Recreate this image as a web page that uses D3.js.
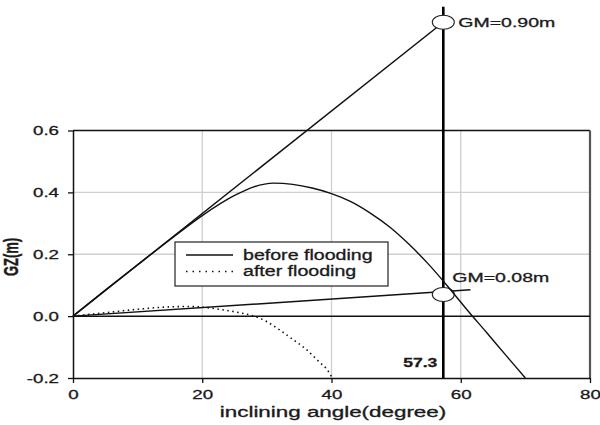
<!DOCTYPE html>
<html lang="en">
<head>
<meta charset="utf-8">
<title>GZ curve</title>
<script src="https://cdn.jsdelivr.net/npm/d3@7"></script>
<style>
  body { margin: 0; background: #fff; }
  text { font-family: "Liberation Sans", Arial, sans-serif; fill: #1a1a1a; stroke: #1a1a1a; stroke-width: 0.3px; }
</style>
</head>
<body>
<script>

// stability curve values
var angleBefore = [0, 5, 10, 15, 20, 25, 28, 31, 34, 37, 40, 43, 46, 49, 52, 55, 58, 61, 64, 67, 70];
var gzBefore    = [0, 0.084, 0.166, 0.247, 0.325, 0.39, 0.418, 0.43, 0.426, 0.414, 0.396, 0.37, 0.333, 0.288, 0.232, 0.168, 0.096, 0.02, -0.053, -0.127, -0.2];

var angleAfter = [0, 5, 10, 15, 18, 20, 23, 26, 28, 30, 32, 34, 36, 38, 39.5, 40];
var gzAfter    = [0, 0.011, 0.022, 0.03, 0.031, 0.029, 0.021, 0.01, 0, -0.018, -0.045, -0.075, -0.106, -0.146, -0.178, -0.195];

// GM tangent lines (angle, GZ) and the 1 rad marker
var gmLabels = ["GM=0.90m", "GM=0.08m"];
var gmLineEnd = [[57.3, 0.95], [61.5, 0.085]];
var gmMarker = [[57.3, 0.95], [57.3, 0.07]];
var radAngle = 57.3;
var radTop = 1.0;

var xTicks = [0, 20, 40, 60, 80];
var yTicks = [-0.2, 0.0, 0.2, 0.4, 0.6];
var xGrid = [20, 40, 60];
var yGrid = [0.2, 0.4];

var legendNames = ["before flooding", "after flooding"];

var W = 600, H = 425;
var sx = 1.5;   // text in the picture is stretched sideways

var x = d3.scaleLinear().domain([0, 80]).range([73, 590]);
var y = d3.scaleLinear().domain([-0.2, 0.6]).range([378, 130.5]);

var svg = d3.select("body").append("svg")
    .attr("width", W)
    .attr("height", H);

function label(str, px, py, size, anchor, weight, scaleX) {
  return svg.append("text")
    .attr("transform", "translate(" + px + "," + py + ") scale(" + (scaleX || sx) + ",1)")
    .attr("font-size", size)
    .attr("text-anchor", anchor || "start")
    .attr("font-weight", weight || "normal")
    .text(str);
}

// grid
svg.append("g").selectAll("line")
    .data(yGrid).enter().append("line")
    .attr("x1", x(0)).attr("x2", x(80))
    .attr("y1", function(d) { return y(d); })
    .attr("y2", function(d) { return y(d); })
    .attr("stroke", "#cfcfcf").attr("stroke-width", 1.3);

svg.append("g").selectAll("line")
    .data(xGrid).enter().append("line")
    .attr("y1", y(-0.2)).attr("y2", y(0.6))
    .attr("x1", function(d) { return x(d); })
    .attr("x2", function(d) { return x(d); })
    .attr("stroke", "#cfcfcf").attr("stroke-width", 1.3);

// frame top / right and zero line
svg.append("line")
    .attr("x1", x(0)).attr("x2", x(80)).attr("y1", y(0.6)).attr("y2", y(0.6))
    .attr("stroke", "#111").attr("stroke-width", 1.5);
svg.append("line")
    .attr("x1", x(80)).attr("x2", x(80)).attr("y1", y(0.6)).attr("y2", y(-0.2))
    .attr("stroke", "#555").attr("stroke-width", 2.2);
svg.append("line")
    .attr("x1", x(0)).attr("x2", x(80)).attr("y1", y(0)).attr("y2", y(0))
    .attr("stroke", "#111").attr("stroke-width", 1.5);

// axes
var yAxis = svg.append("g")
    .attr("transform", "translate(" + x(0) + ",0)")
    .call(d3.axisLeft(y).tickValues(yTicks).tickSize(5).tickSizeOuter(0)
      .tickFormat(function(d) { return d.toFixed(1); }));

var xAxis = svg.append("g")
    .attr("transform", "translate(0," + y(-0.2) + ")")
    .call(d3.axisBottom(x).tickValues(xTicks).tickSize(5).tickSizeOuter(0)
      .tickFormat(function(d) { return d; }));

[yAxis, xAxis].forEach(function(g) {
  g.select(".domain").attr("stroke", "#111").attr("stroke-width", 1.5);
  g.selectAll(".tick line").attr("stroke", "#111").attr("stroke-width", 1.3);
  g.selectAll(".tick text")
    .attr("font-family", "Liberation Sans, Arial, sans-serif")
    .attr("font-size", 12.5)
    .attr("fill", "#1a1a1a");
});
yAxis.selectAll(".tick text")
    .attr("x", -14 / sx)
    .attr("transform", "scale(" + sx + ",1)");
xAxis.selectAll(".tick text")
    .attr("y", 12)
    .attr("transform", "scale(" + sx + ",1)");

// axis titles
label("inclining angle(degree)", 333, 417, 14, "middle", "normal", 1.6);
svg.append("text")
    .attr("transform", "translate(18,257) scale(" + sx + ",1) rotate(-90)")
    .attr("font-size", 13)
    .attr("font-weight", "bold")
    .attr("text-anchor", "middle")
    .text("GZ(m)");

// 1 rad line
svg.append("line")
    .attr("x1", x(radAngle)).attr("x2", x(radAngle))
    .attr("y1", y(radTop)).attr("y2", y(-0.2))
    .attr("stroke", "#000").attr("stroke-width", 2.6);

// tangent lines
svg.append("g").selectAll("line")
    .data(gmLineEnd).enter().append("line")
    .attr("x1", x(0)).attr("y1", y(0))
    .attr("x2", function(d) { return x(d[0]); })
    .attr("y2", function(d) { return y(d[1]); })
    .attr("stroke", "#111").attr("stroke-width", 1.5);

var line = d3.line()
    .x(function(d) { return x(d[0]); })
    .y(function(d) { return y(d[1]); })
    .curve(d3.curveMonotoneX);

svg.append("path")
    .datum(d3.zip(angleAfter, gzAfter))
    .attr("d", line)
    .attr("fill", "none")
    .attr("stroke", "#111").attr("stroke-width", 1.6)
    .attr("stroke-dasharray", "1.5,3.5");

// markers
svg.append("g").selectAll("ellipse")
    .data(gmMarker).enter().append("ellipse")
    .attr("cx", function(d) { return x(d[0]); })
    .attr("cy", function(d) { return y(d[1]); })
    .attr("rx", 11).attr("ry", 7)
    .attr("fill", "#fff").attr("stroke", "#222").attr("stroke-width", 1.1);

svg.append("path")
    .datum(d3.zip(angleBefore, gzBefore))
    .attr("d", line)
    .attr("fill", "none")
    .attr("stroke", "#111").attr("stroke-width", 1.4);

label(gmLabels[0], x(gmMarker[0][0]) + 15, y(gmMarker[0][1]) + 5, 13);
label(gmLabels[1], x(gmMarker[1][0]) + 9, y(gmMarker[1][1]) - 12, 13);
label(radAngle.toFixed(1), x(radAngle) - 6, 367, 13, "end", "bold", 1.35);

// legend
var lg = svg.append("g").attr("transform", "translate(175,242)");
lg.append("rect")
    .attr("width", 213).attr("height", 44)
    .attr("fill", "#fff").attr("stroke", "#222").attr("stroke-width", 1.2);
lg.selectAll("line")
    .data(legendNames).enter().append("line")
    .attr("x1", 11).attr("x2", 58)
    .attr("y1", function(d, i) { return 13 + i * 16.5; })
    .attr("y2", function(d, i) { return 13 + i * 16.5; })
    .attr("stroke", "#111").attr("stroke-width", 1.4)
    .attr("stroke-dasharray", function(d, i) { return i ? "1.5,5" : null; });
lg.selectAll("text")
    .data(legendNames).enter().append("text")
    .attr("transform", function(d, i) { return "translate(68," + (18 + i * 15.5) + ") scale(1.4,1)"; })
    .attr("font-size", 14)
    .text(function(d) { return d; });

</script>
</body>
</html>
